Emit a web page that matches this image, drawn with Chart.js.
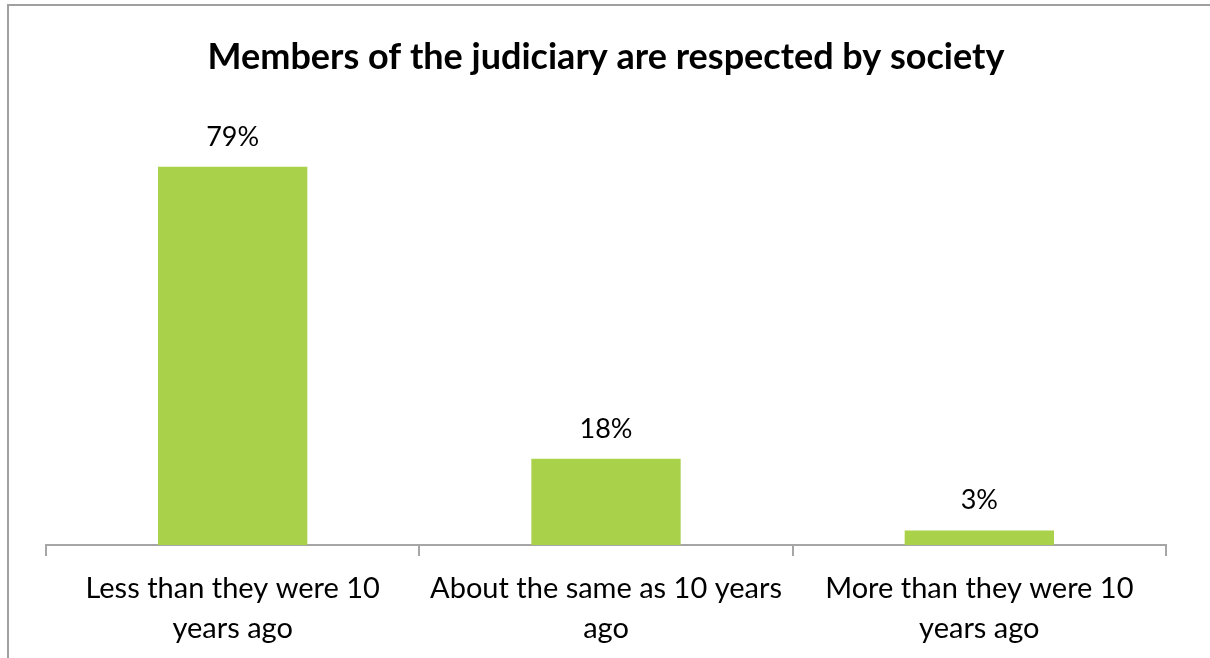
<!DOCTYPE html>
<html>
<head>
<meta charset="utf-8">
<title>Members of the judiciary are respected by society</title>
<script src="https://cdn.jsdelivr.net/npm/chart.js@4"></script>
<style>
  html, body { margin: 0; padding: 0; background: #fff; }
  #wrap { width: 1210px; height: 658px; position: relative; }
</style>
</head>
<body>
<div id="wrap"><canvas id="myChart" width="1210" height="658"></canvas></div>
<script>
// categories (multi-line tick labels) and percentages
const categories = [
    ['Less than they were 10', 'years ago'],
    ['About the same as 10 years', 'ago'],
    ['More than they were 10', 'years ago']
];
const values = [79, 18, 3];
const yMax = 90;

const FONT = 'Lato, "Noto Sans", "DejaVu Sans", sans-serif';

// chart frame: grey line along the top and left edge
const framePlugin = {
    id: 'frame',
    beforeDraw(chart) {
        const ctx = chart.ctx;
        ctx.save();
        ctx.fillStyle = '#fff';
        ctx.fillRect(0, 0, chart.width, chart.height);
        ctx.strokeStyle = '#a0a0a0';
        ctx.lineWidth = 2;
        ctx.beginPath();
        ctx.moveTo(8, chart.height);
        ctx.lineTo(8, 5);
        ctx.lineTo(chart.width, 5);
        ctx.stroke();
        ctx.restore();
    }
};

// percent labels above each bar
const valueLabels = {
    id: 'valueLabels',
    afterDatasetsDraw(chart) {
        const ctx = chart.ctx;
        const meta = chart.getDatasetMeta(0);
        ctx.save();
        ctx.font = '27px ' + FONT;
        ctx.fillStyle = '#000';
        ctx.textAlign = 'center';
        ctx.textBaseline = 'middle';
        meta.data.forEach((bar, i) => {
            ctx.fillText(values[i] + '%', bar.x, bar.y - 30);
        });
        ctx.restore();
    }
};

const data = {
    labels: categories,
    datasets: [{
        data: values,
        backgroundColor: '#a9d14a',
        borderWidth: 0,
        barPercentage: 0.4,
        categoryPercentage: 1.0
    }]
};

const config = {
    type: 'bar',
    data: data,
    options: {
        responsive: false,
        animation: false,
        layout: {
            padding: { left: 46, right: 44, top: 0, bottom: -4 }
        },
        plugins: {
            legend: { display: false },
            tooltip: { enabled: false },
            title: {
                display: true,
                text: 'Members of the judiciary are respected by society',
                color: '#000',
                font: { family: FONT, size: 36, weight: 'bold', lineHeight: 1.2 },
                padding: { top: 36, bottom: 35 }
            }
        },
        scales: {
            x: {
                grid: {
                    display: true,
                    offset: true,
                    drawOnChartArea: false,
                    drawTicks: true,
                    tickLength: 11,
                    color: '#a6a6a6',
                    lineWidth: 2
                },
                border: { display: true, color: '#a6a6a6', width: 2 },
                ticks: {
                    color: '#000',
                    padding: 13,
                    maxRotation: 0,
                    autoSkip: false,
                    font: { family: FONT, size: 29, lineHeight: 1.38 }
                }
            },
            y: {
                display: false,
                min: 0,
                max: yMax
            }
        }
    },
    plugins: [framePlugin, valueLabels]
};

const ctx = document.getElementById('myChart');
const chart = new Chart(ctx, config);
</script>
</body>
</html>
